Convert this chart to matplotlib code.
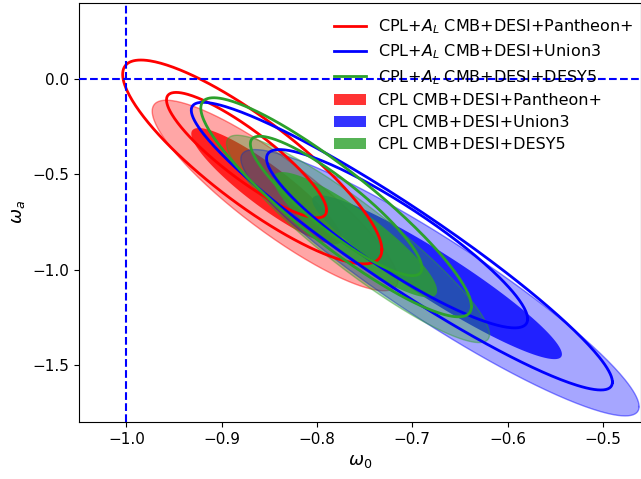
import matplotlib
matplotlib.use("Agg")
import matplotlib.pyplot as plt
import numpy as np

# Contour summaries:
# centre (w0, wa), half-width in w0, half-height in wa, correlation
labels = ["CMB+DESI+Pantheon+", "CMB+DESI+Union3", "CMB+DESI+DESY5"]
colors = ["red", "blue", "tab:green"]

# CPL (filled), 1 sigma and 2 sigma
cpl_center_1 = [(-0.853, -0.562), (-0.674, -1.040), (-0.760, -0.817)]
cpl_half_1 = [(0.079, 0.305), (0.131, 0.430), (0.086, 0.329)]
cpl_rho_1 = [-0.90, -0.94, -0.89]
cpl_center_2 = [(-0.844, -0.611), (-0.671, -1.069), (-0.757, -0.839)]
cpl_half_2 = [(0.129, 0.500), (0.209, 0.699), (0.138, 0.544)]
cpl_rho_2 = [-0.885, -0.93, -0.92]

# CPL+A_L (lines), 1 sigma and 2 sigma
al_center_1 = [(-0.874, -0.399), (-0.716, -0.838), (-0.780, -0.666)]
al_half_1 = [(0.084, 0.329), (0.137, 0.468), (0.090, 0.366)]
al_rho_1 = [-0.88, -0.90, -0.89]
al_center_2 = [(-0.868, -0.435), (-0.711, -0.877), (-0.780, -0.673)]
al_half_2 = [(0.136, 0.535), (0.221, 0.755), (0.142, 0.575)]
al_rho_2 = [-0.86, -0.945, -0.905]


def contour_xy(center, half, rho, n=300):
    t = np.linspace(0, 2 * np.pi, n)
    phi = np.arccos(rho)
    x = center[0] + half[0] * np.cos(t)
    y = center[1] + half[1] * np.cos(t + phi)
    return x, y


fig = plt.figure(figsize=(6.41, 4.79), dpi=100)
ax = fig.add_axes([0.123, 0.119, 0.877, 0.875])

# filled CPL contours: outer first, inner on top
for i in range(3):
    x, y = contour_xy(cpl_center_2[i], cpl_half_2[i], cpl_rho_2[i])
    ax.fill(x, y, facecolor=colors[i], alpha=0.35, edgecolor="none", zorder=2)
    ax.plot(x, y, color=colors[i], alpha=0.45, lw=1.0, zorder=2)
    x, y = contour_xy(cpl_center_1[i], cpl_half_1[i], cpl_rho_1[i])
    ax.fill(x, y, facecolor=colors[i], alpha=0.8, edgecolor="none", zorder=2,
            label="CPL " + labels[i])

# CPL+A_L line contours
for i in range(3):
    x, y = contour_xy(al_center_2[i], al_half_2[i], al_rho_2[i])
    ax.plot(x, y, color=colors[i], lw=2, zorder=3,
            label=r"CPL+$A_L$ " + labels[i])
    x, y = contour_xy(al_center_1[i], al_half_1[i], al_rho_1[i])
    ax.plot(x, y, color=colors[i], lw=2, zorder=3)

ax.axvline(-1.0, color="blue", ls="--", lw=1.5, zorder=4)
ax.axhline(0.0, color="blue", ls="--", lw=1.5, zorder=4)

ax.set_xlim(-1.05, -0.46)
ax.set_ylim(-1.8, 0.4)
ax.set_xticks([-1.0, -0.9, -0.8, -0.7, -0.6, -0.5])
ax.set_yticks([0.0, -0.5, -1.0, -1.5])
ax.tick_params(labelsize=11)
ax.set_xlabel(r"$\omega_0$", fontsize=13)
ax.set_ylabel(r"$\omega_a$", fontsize=13)

handles, labs = ax.get_legend_handles_labels()
order = [3, 4, 5, 0, 1, 2]
ax.legend([handles[k] for k in order], [labs[k] for k in order],
          loc="upper right", bbox_to_anchor=(1.013, 1.0), frameon=False,
          fontsize=11.5, labelspacing=0.42)

fig.savefig("out.png", dpi=100)
